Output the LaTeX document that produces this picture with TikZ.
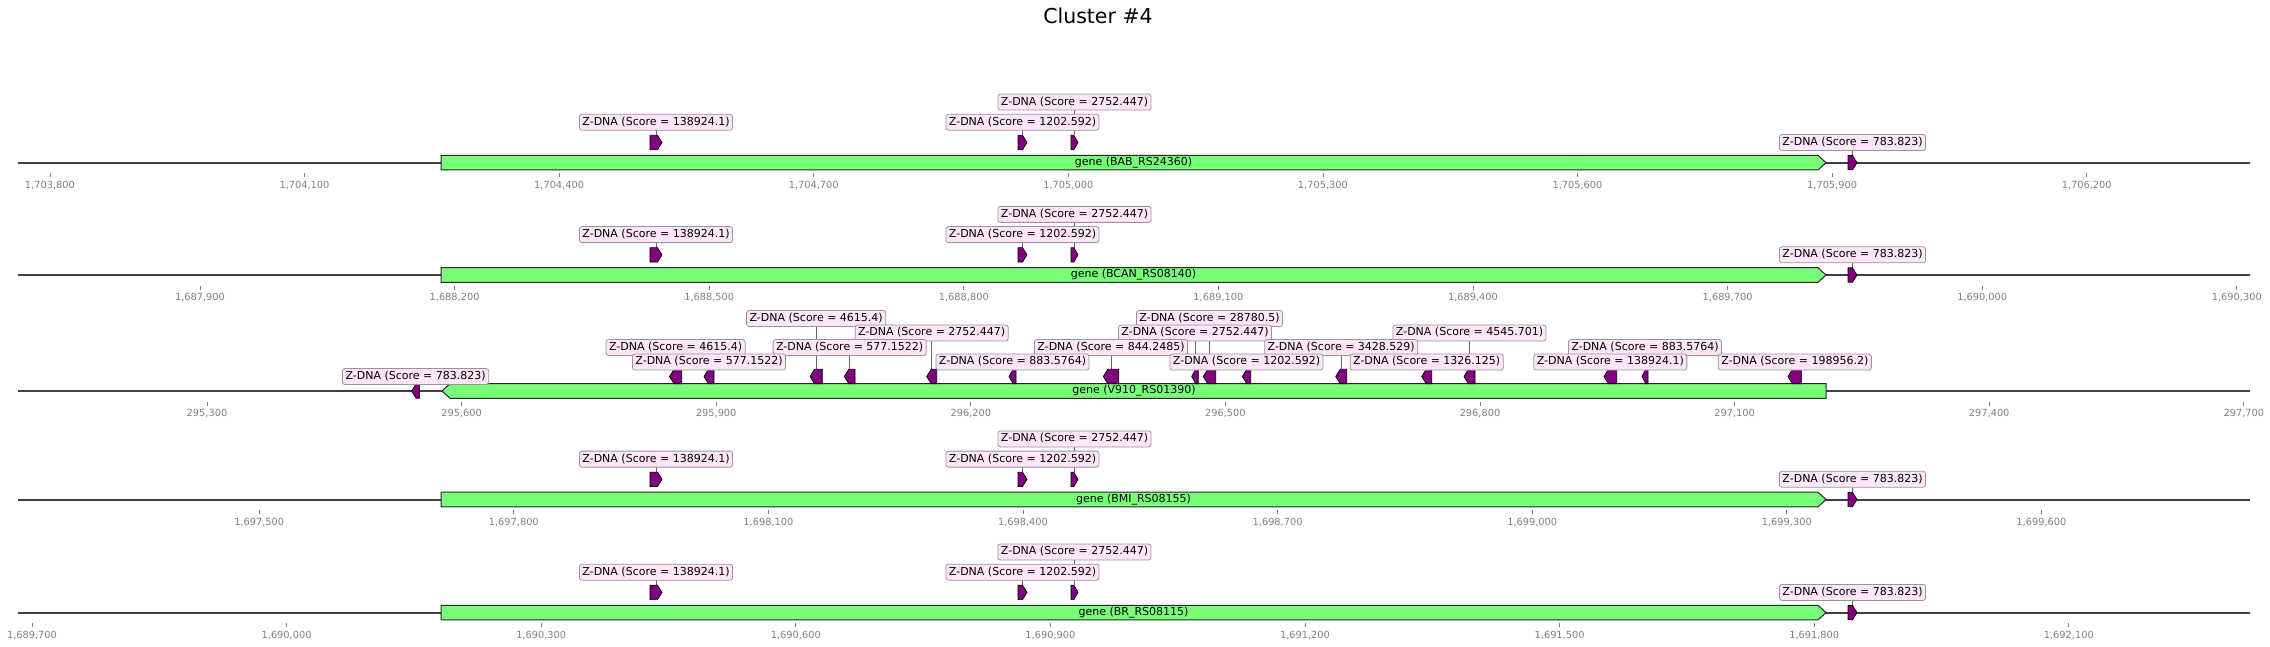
\documentclass[tikz,border=0pt]{standalone}
\usepackage{fontspec}
\setmainfont{DejaVu Sans}
\usetikzlibrary{backgrounds}
\definecolor{genegreen}{RGB}{120,255,120}
\definecolor{zpurple}{RGB}{128,0,128}
\definecolor{labpink}{RGB}{255,230,250}
\definecolor{labedge}{RGB}{150,150,150}
\definecolor{ticktext}{RGB}{128,128,128}
\tikzset{
  axisline/.style={draw=black!75, line width=2pt},
  genebox/.style={draw=black!85, fill=genegreen, line width=1pt},
  zfeat/.style={draw=black, fill=zpurple, line width=0.7pt},
  zlab/.style={draw=labedge, fill=labpink, rounded corners=2.5pt, line width=0.8pt,
    inner xsep=3pt, inner ysep=0pt, minimum height=16pt, text height=8.2pt, text depth=2.3pt,
    font=\fontsize{11}{13}\selectfont},
  genelab/.style={font=\fontsize{11}{13}\selectfont, inner sep=0pt},
  ticklab/.style={text=ticktext, font=\fontsize{9.8}{11}\selectfont, inner sep=0pt, anchor=base},
  tickmk/.style={draw=ticktext, line width=0.7pt},
  conn/.style={draw=black!60, line width=0.8pt},
  titlefont/.style={font=\fontsize{20.5}{24}\selectfont, inner sep=0pt, anchor=base}
}
% feature pointing right: x1, x2, y centre, name
\newcommand\featR[4]{%
  \pgfmathsetmacro\tp{#2-min(4.5,0.6*(#2-#1))}%
  \draw[zfeat] (#1,#3-7.2) -- (\tp,#3-7.2) -- (#2,#3) -- (\tp,#3+7.2) -- (#1,#3+7.2) -- cycle;
  \coordinate (#4) at ({(#1+#2)/2},#3-7.2);}
% feature pointing left
\newcommand\featL[4]{%
  \pgfmathsetmacro\tp{#1+min(4.5,0.6*(#2-#1))}%
  \draw[zfeat] (#2,#3-7.2) -- (\tp,#3-7.2) -- (#1,#3) -- (\tp,#3+7.2) -- (#2,#3+7.2) -- cycle;
  \coordinate (#4) at ({(#1+#2)/2},#3-7.2);}
% gene pointing right: x1, x2, y, text, name
\newcommand\geneR[5]{%
  \draw[genebox] (#1,#3-7.3) -- (#2-8,#3-7.3) -- (#2,#3) -- (#2-8,#3+7.3) -- (#1,#3+7.3) -- cycle;
  \node[genelab] (#5) at ({(#1+#2)/2},#3) {#4};}
\newcommand\geneL[5]{%
  \draw[genebox] (#2,#3-7.3) -- (#1+8,#3-7.3) -- (#1,#3) -- (#1+8,#3+7.3) -- (#2,#3+7.3) -- cycle;
  \node[genelab] (#5) at ({(#1+#2)/2},#3) {#4};}
% label: name, x, y, score, feature coordinate
\newcommand\zlabel[5]{%
  \node[zlab] (#1) at (#2,#3) {Z-DNA (Score = #4)};
  \begin{scope}[on background layer]\draw[conn] (#5) -- (#5 |- #1.center);\end{scope}}
% ticks: prefix, line y, first x, labels
\newcommand\trackticks[4]{%
  \foreach \lab [count=\i from 0] in {#4} {
    \pgfmathsetmacro\xx{#3+254.6*\i}
    \draw[tickmk] (\xx,#2+10.6) -- (\xx,#2+14.6);
    \node[ticklab] (#1-\i) at (\xx,#2+25.5) {\lab};
  }}
% standard track: line y, gene text, prefix, tick x0, tick labels
\newcommand\stdtrack[5]{%
  \draw[axisline] (18,#1) -- (2250,#1);
  \geneR{441}{1826}{#1}{#2}{#3g}
  \featR{650}{662}{#1-20.2}{#3f1}
  \featR{1018}{1027}{#1-20.2}{#3f2}
  \featR{1071}{1078}{#1-20.2}{#3f3}
  \featR{1848}{1857}{#1}{#3f4}
  \zlabel{#3l3}{1074.5}{#1-60.6}{2752.447}{#3f3}
  \zlabel{#3l1}{656}{#1-40.4}{138924.1}{#3f1}
  \zlabel{#3l2}{1022.5}{#1-40.4}{1202.592}{#3f2}
  \zlabel{#3l4}{1852.5}{#1-20.2}{783.823}{#3f4}
  \trackticks{#3t}{#1}{#4}{#5}}
\begin{document}
\begin{tikzpicture}[x=1pt,y=-1pt]
\useasboundingbox (0,0) rectangle (2270,647);
\node[titlefont] (title) at (1098,23.3) {Cluster \#4};

\stdtrack{162.7}{gene (BAB\_RS24360)}{a}{49.9}{{1,703,800},{1,704,100},{1,704,400},{1,704,700},{1,705,000},{1,705,300},{1,705,600},{1,705,900},{1,706,200}}
\stdtrack{275}{gene (BCAN\_RS08140)}{b}{200}{{1,687,900},{1,688,200},{1,688,500},{1,688,800},{1,689,100},{1,689,400},{1,689,700},{1,690,000},{1,690,300}}

% track 3
\draw[axisline] (18,391) -- (2250,391);
\geneL{442}{1826}{391}{gene (V910\_RS01390)}{cg}
\featL{411.6}{419.6}{391}{cq}
\featL{669.5}{681.7}{376.5}{ca}
\featL{704}{714}{376.5}{cb}
\featL{810}{822.3}{376.5}{cc}
\featL{844.3}{855}{376.5}{cd}
\featL{926.7}{936.7}{376.5}{ce}
\featL{1009}{1016}{376.5}{cf}
\featL{1103.3}{1118.7}{376.5}{cgg}
\featL{1191.7}{1198.3}{376.5}{ch}
\featL{1203.3}{1215.7}{376.5}{ci}
\featL{1242.3}{1250.7}{376.5}{cj}
\featL{1335.7}{1346.7}{376.5}{ck}
\featL{1421.7}{1431.7}{376.5}{cl}
\featL{1464}{1475}{376.5}{cm}
\featL{1604}{1616.7}{376.5}{cn}
\featL{1642}{1648}{376.5}{co}
\featL{1788}{1801.6}{376.5}{cp}
\zlabel{clc}{816.2}{318.5}{4615.4}{cc}
\zlabel{cli}{1209.5}{318.5}{28780.5}{ci}
\zlabel{cle}{931.7}{333}{2752.447}{ce}
\zlabel{clh}{1195}{333}{2752.447}{ch}
\zlabel{clm}{1469.5}{333}{4545.701}{cm}
\zlabel{cla}{675.6}{347.5}{4615.4}{ca}
\zlabel{cld}{849.7}{347.5}{577.1522}{cd}
\zlabel{clg}{1111}{347.5}{844.2485}{cgg}
\zlabel{clk}{1341.2}{347.5}{3428.529}{ck}
\zlabel{clo}{1645}{347.5}{883.5764}{co}
\zlabel{clb}{709}{362}{577.1522}{cb}
\zlabel{clf}{1012.5}{362}{883.5764}{cf}
\zlabel{clj}{1246.5}{362}{1202.592}{cj}
\zlabel{cll}{1426.7}{362}{1326.125}{cl}
\zlabel{cln}{1610.3}{362}{138924.1}{cn}
\zlabel{clp}{1794.8}{362}{198956.2}{cp}
\zlabel{clq}{415.6}{376.5}{783.823}{cq}
\trackticks{ct}{391}{207}{{295,300},{295,600},{295,900},{296,200},{296,500},{296,800},{297,100},{297,400},{297,700}}

\stdtrack{499.5}{gene (BMI\_RS08155)}{d}{259.2}{{1,697,500},{1,697,800},{1,698,100},{1,698,400},{1,698,700},{1,699,000},{1,699,300},{1,699,600}}
\stdtrack{612.6}{gene (BR\_RS08115)}{e}{32}{{1,689,700},{1,690,000},{1,690,300},{1,690,600},{1,690,900},{1,691,200},{1,691,500},{1,691,800},{1,692,100}}
\end{tikzpicture}
\end{document}
